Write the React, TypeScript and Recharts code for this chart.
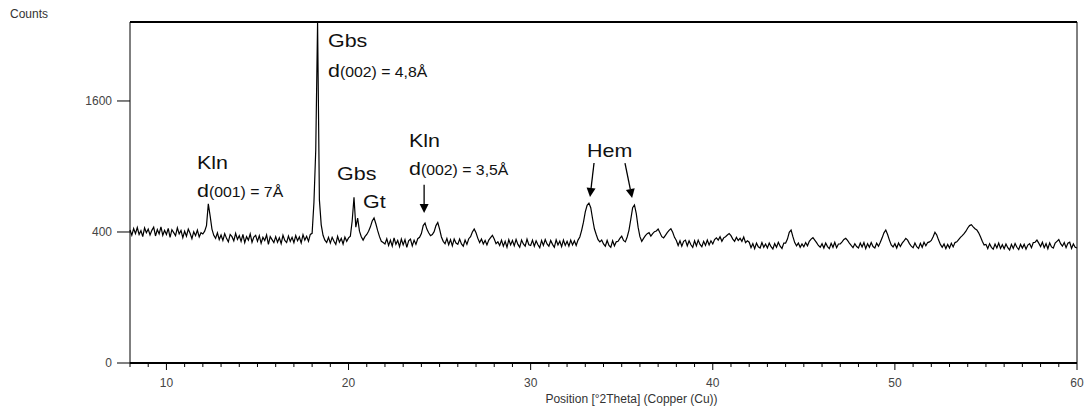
import React from 'react';
import { LineChart, Line, XAxis, YAxis, ReferenceLine, ReferenceDot } from 'recharts';

// Diffractogram sampled every 0.1 °2θ from 8.0 to 60.0
const THETA_START = 8;
const THETA_STEP = 0.1;

const intensity = [
  // 8.0 – 8.9
  412, 380, 421, 390, 428, 385, 408, 372, 425, 395,
  // 9
  418, 382, 410, 430, 376, 415, 388, 432, 380, 410,
  // 10
  385, 422, 368, 414, 396, 378, 426, 388, 410, 366,
  // 11
  405, 375, 418, 392, 360, 402, 378, 412, 370, 396,
  // 12
  388, 405, 440, 590, 505, 418, 380, 362, 395, 355,
  // 13
  382, 350, 390, 362, 342, 385, 372, 348, 392, 356,
  // 14
  378, 345, 385, 338, 372, 352, 388, 340, 370, 380,
  // 15
  345, 378, 334, 368, 350, 382, 328, 372, 355, 338,
  // 16
  372, 340, 366, 332, 380, 350, 338, 376, 345, 368,
  // 17
  338, 378, 348, 370, 336, 384, 352, 374, 345, 385,
  // 18
  392, 600, 1060, 2710, 620, 445, 380, 352, 338, 368,
  // 19
  335, 368, 345, 328, 374, 340, 362, 330, 370, 345,
  // 20
  365, 375, 470, 640, 430, 490, 405, 372, 352, 372,
  // 21
  385, 405, 432, 470, 490, 452, 408, 372, 345, 338,
  // 22
  330, 360, 322, 352, 318, 365, 328, 350, 315, 358,
  // 23
  325, 355, 312, 348, 358, 320, 352, 328, 360, 368,
  // 24
  390, 440, 456, 418, 395, 378, 385, 402, 440, 460,
  // 25
  418, 370, 345, 332, 362, 326, 355, 320, 358, 335,
  // 26
  328, 358, 330, 318, 352, 328, 360, 372, 400, 418,
  // 27
  395, 362, 338, 358, 330, 350, 325, 352, 366, 380,
  // 28
  358, 332, 342, 322, 352, 318, 345, 312, 355, 325,
  // 29
  350, 320, 356, 328, 312, 352, 330, 318, 358, 326,
  // 30
  322, 352, 318, 348, 326, 310, 350, 322, 355, 330,
  // 31
  318, 350, 328, 312, 354, 325, 346, 315, 352, 322,
  // 32
  345, 318, 352, 325, 348, 322, 352, 370, 410, 462,
  // 33
  532, 580, 596, 562, 485, 420, 385, 355, 342, 352,
  // 34
  330, 318, 350, 322, 312, 348, 320, 342, 345, 362,
  // 35
  375, 350, 342, 370, 412, 482, 562, 582, 520, 430,
  // 36
  372, 345, 362, 378, 390, 396, 375, 390, 402, 406,
  // 37
  418, 395, 372, 365, 380, 396, 410, 420, 398, 368,
  // 38
  350, 322, 348, 318, 345, 352, 320, 348, 326, 312,
  // 39
  348, 320, 352, 328, 315, 345, 322, 352, 325, 348,
  // 40
  330, 355, 365, 352, 372, 345, 365, 372, 382, 390,
  // 41
  378, 358, 345, 368, 350, 362, 345, 370, 338, 348,
  // 42
  340, 310, 332, 305, 335, 315, 308, 338, 312, 330,
  // 43
  308, 335, 315, 303, 332, 312, 340, 318, 306, 335,
  // 44
  335, 358, 398, 412, 372, 338, 320, 335, 312, 330,
  // 45
  315, 338, 320, 345, 358, 366, 352, 338, 322, 312,
  // 46
  332, 308, 336, 316, 305, 334, 312, 340, 310, 330,
  // 47
  330, 342, 356, 362, 350, 335, 322, 310, 332, 316,
  // 48
  308, 335, 314, 338, 305, 332, 312, 338, 316, 308,
  // 49
  335, 318, 340, 365, 395, 412, 385, 352, 325, 314,
  // 50
  332, 308, 336, 316, 335, 348, 362, 352, 332, 318,
  // 51
  310, 336, 315, 306, 334, 312, 340, 320, 338, 342,
  // 52
  350, 372, 398, 382, 352, 328, 312, 330, 305, 328,
  // 53
  308, 334, 314, 338, 342, 355, 368, 378, 390, 405,
  // 54
  425, 440, 446, 432, 420, 412, 395, 372, 345, 325,
  // 55
  328, 305, 332, 312, 302, 330, 308, 335, 306, 326,
  // 56
  304, 330, 310, 298, 328, 306, 333, 312, 300, 328,
  // 57
  308, 328, 302, 324, 332, 310, 338, 340, 352, 335,
  // 58
  316, 340, 310, 332, 304, 336, 314, 308, 335, 345,
  // 59
  355, 332, 318, 338, 310, 334, 340, 306, 330, 312,
  // 60.0
  308,
];

const xTicks = [
  8, 9, 10, 11, 12, 13, 14, 15, 16, 17, 18, 19, 20, 21, 22, 23, 24, 25, 26, 27,
  28, 29, 30, 31, 32, 33, 34, 35, 36, 37, 38, 39, 40, 41, 42, 43, 44, 45, 46, 47,
  48, 49, 50, 51, 52, 53, 54, 55, 56, 57, 58, 59, 60,
];
const yTicks = [0, 400, 1600];
const Y_MAX = 2710;

// Phase labels, anchored in (°2θ, counts)
const phaseLabels = [
  { theta: 11.68, counts: 877, main: 'Kln', sub: '' },
  { theta: 11.68, counts: 642, main: 'd', sub: '(001) = 7Å' },
  { theta: 18.87, counts: 2327, main: 'Gbs', sub: '' },
  { theta: 18.87, counts: 1906, main: 'd', sub: '(002) = 4,8Å' },
  { theta: 19.37, counts: 780, main: 'Gbs', sub: '' },
  { theta: 20.8, counts: 560, main: 'Gt', sub: '' },
  { theta: 23.32, counts: 1087, main: 'Kln', sub: '' },
  { theta: 23.32, counts: 824, main: 'd', sub: '(002) = 3,5Å' },
  { theta: 33.1, counts: 989, main: 'Hem', sub: '' },
];

// Arrows pointing at reflections: tail -> head
const arrows = [
  { fromTheta: 24.15, fromCounts: 740, toTheta: 24.15, toCounts: 524 },
  { fromTheta: 33.48, fromCounts: 932, toTheta: 33.26, toCounts: 642 },
  { fromTheta: 35.18, fromCounts: 932, toTheta: 35.57, toCounts: 635 },
];

const data = intensity.map((c, i) => ({
  theta: Math.round((THETA_START + i * THETA_STEP) * 10) / 10,
  counts: c,
}));

const FONT = '"Liberation Sans", Arial, Helvetica, sans-serif';

const XTick = (props: any) => {
  const { x, y, payload } = props;
  const major = payload.value % 10 === 0;
  return (
    <g>
      <line x1={x} x2={x} y1={y} y2={y + (major ? 7 : 4)} stroke="#000" strokeWidth={1} />
      {major && (
        <text x={x} y={y + 24} textAnchor="middle" fontSize={12} fontFamily={FONT} fill="#444">
          {payload.value}
        </text>
      )}
    </g>
  );
};

const PhaseText = (props: any) => {
  const { cx, cy, main, sub } = props;
  return (
    <text
      transform={`translate(${cx},${cy}) scale(1.13,1)`}
      fontFamily={FONT}
      fill="#111"
    >
      <tspan fontSize={19}>{main}</tspan>
      {sub ? <tspan fontSize={14}>{sub}</tspan> : null}
    </text>
  );
};

const ArrowShape = (props: any) => {
  const { x1, y1, x2, y2 } = props;
  if ([x1, y1, x2, y2].some((v) => v == null || Number.isNaN(v))) return null;
  const dx = x2 - x1;
  const dy = y2 - y1;
  const len = Math.sqrt(dx * dx + dy * dy) || 1;
  const ux = dx / len;
  const uy = dy / len;
  const headL = 9;
  const headW = 4.5;
  const bx = x2 - ux * headL;
  const by = y2 - uy * headL;
  const pts = `${x2},${y2} ${bx - uy * headW},${by + ux * headW} ${bx + uy * headW},${by - ux * headW}`;
  return (
    <g>
      <line x1={x1} y1={y1} x2={bx} y2={by} stroke="#000" strokeWidth={1.3} />
      <polygon points={pts} fill="#000" />
    </g>
  );
};

const XTitle = (props: any) => {
  const { viewBox } = props;
  if (!viewBox) return null;
  return (
    <text
      x={viewBox.x + viewBox.width / 2 + 28}
      y={viewBox.y + 40}
      textAnchor="middle"
      fontSize={12}
      fontFamily={FONT}
      fill="#333"
    >
      Position [°2Theta] (Copper (Cu))
    </text>
  );
};

export default function App() {
  return (
    <div style={{ position: 'absolute', left: 0, top: 0, width: 1091, height: 410, background: '#fff' }}>
      <LineChart
        width={1091}
        height={410}
        data={data}
        margin={{ top: 22, right: 14, bottom: 17, left: 0 }}
      >
        <XAxis
          dataKey="theta"
          type="number"
          domain={[8, 60]}
          ticks={xTicks}
          interval={0}
          tickSize={0}
          tickMargin={0}
          tickLine={false}
          tick={<XTick />}
          height={30}
          axisLine={{ stroke: '#000', strokeWidth: 2 }}
          label={<XTitle />}
        />
        <YAxis
          type="number"
          scale="sqrt"
          domain={[0, Y_MAX]}
          ticks={yTicks}
          interval={0}
          width={130}
          tickSize={13}
          tickMargin={5}
          axisLine={{ stroke: '#000', strokeWidth: 1 }}
          tickLine={{ stroke: '#000', strokeWidth: 1 }}
          tick={{ fontSize: 12, fontFamily: FONT, fill: '#444' }}
          allowDataOverflow
        />
        <ReferenceLine y={Y_MAX} stroke="#000" strokeWidth={2} ifOverflow="visible" />
        <ReferenceLine x={60} stroke="#000" strokeWidth={1} ifOverflow="visible" />
        <Line
          type="linear"
          dataKey="counts"
          stroke="#000"
          strokeWidth={1.2}
          dot={false}
          isAnimationActive={false}
        />
        {phaseLabels.map((l, i) => (
          <ReferenceDot
            key={`lbl-${i}`}
            x={l.theta}
            y={l.counts}
            r={0}
            ifOverflow="visible"
            shape={(p: any) => <PhaseText cx={p.cx} cy={p.cy} main={l.main} sub={l.sub} />}
          />
        ))}
        {arrows.map((a, i) => (
          <ReferenceLine
            key={`arr-${i}`}
            segment={[
              { x: a.fromTheta, y: a.fromCounts },
              { x: a.toTheta, y: a.toCounts },
            ]}
            ifOverflow="visible"
            shape={(p: any) => <ArrowShape {...p} />}
          />
        ))}
      </LineChart>
      <div
        style={{
          position: 'absolute',
          left: 10,
          top: 7,
          fontSize: 12,
          fontFamily: FONT,
          color: '#333',
          lineHeight: '14px',
        }}
      >
        Counts
      </div>
    </div>
  );
}
